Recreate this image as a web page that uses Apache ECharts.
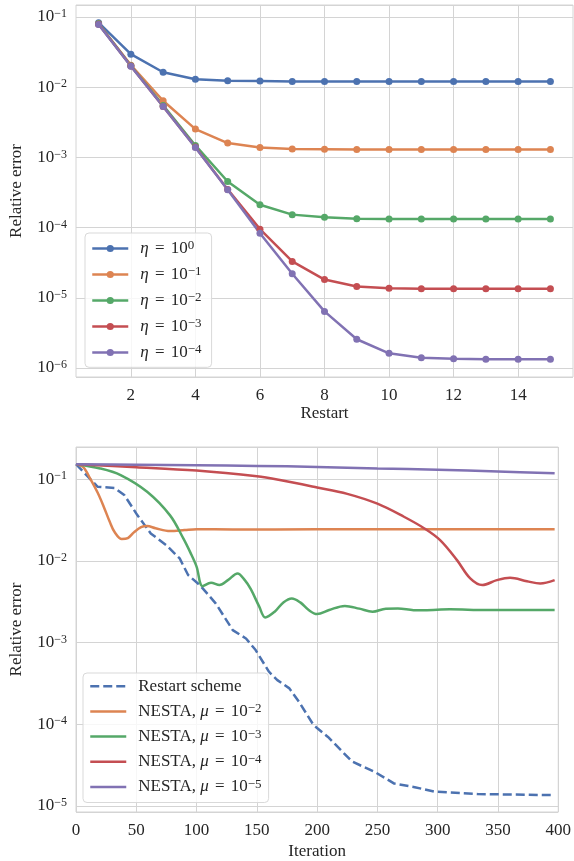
<!DOCTYPE html>
<html>
<head>
<meta charset="utf-8">
<script src="https://cdn.jsdelivr.net/npm/echarts@6/dist/echarts.min.js"></script>
<style>
html, body { margin: 0; padding: 0; background: #fff; }
#main { width: 574px; height: 861px; }
</style>
</head>
<body>
<div id="main"></div>
<script>
var chart = echarts.init(document.getElementById('main'));

// top panel: error after each restart
var restarts = [1, 2, 3, 4, 5, 6, 7, 8, 9, 10, 11, 12, 13, 14, 15];
var restartTicks = [2, 4, 6, 8, 10, 12, 14];
var eta0 = [0.083, 0.0295, 0.0163, 0.013, 0.0123, 0.0122, 0.012, 0.012, 0.012, 0.012, 0.012, 0.012, 0.012, 0.012, 0.012];
var eta1 = [0.080, 0.0206, 0.0064, 0.00253, 0.0016, 0.00138, 0.00132, 0.00131, 0.0013, 0.0013, 0.0013, 0.0013, 0.0013, 0.0013, 0.0013];
var eta2 = [0.080, 0.0202, 0.0055, 0.00148, 0.000454, 0.000212, 0.000153, 0.00014, 0.000134, 0.000133, 0.000133, 0.000133, 0.000133, 0.000133, 0.000133];
var eta3 = [0.079, 0.0200, 0.0053, 0.0014, 0.00035, 0.000095, 0.000033, 0.0000182, 0.0000145, 0.0000137, 0.0000135, 0.0000135, 0.0000135, 0.0000135, 0.0000135];
var eta4 = [0.078, 0.0198, 0.0053, 0.00138, 0.000346, 0.000083, 0.000022, 0.0000064, 0.00000257, 0.00000162, 0.0000014, 0.00000135, 0.00000133, 0.00000133, 0.00000133];
var etaExp = ['0', '−1', '−2', '−3', '−4'];

// bottom panel: error per iteration, [iteration, error]
var restartScheme = [[0, 0.152], [18, 0.0805], [32, 0.078], [40, 0.064], [51, 0.036], [62, 0.0216], [75, 0.0155], [86, 0.0107], [93, 0.0067], [103, 0.005], [116, 0.003], [130, 0.00142], [141, 0.00112], [149, 0.00081], [160, 0.00044], [167, 0.000347], [177, 0.000275], [185, 0.000188], [197, 0.000098], [209, 0.00007], [229, 0.000035], [248, 0.000026], [264, 0.0000188], [281, 0.000017], [297, 0.000015], [333, 0.000014], [396, 0.0000136]];
var nesta2 = [[0, 0.152], [6, 0.14], [12, 0.1], [18, 0.068], [23, 0.046], [28, 0.03], [32, 0.0225], [38, 0.0185], [43, 0.019], [48, 0.0223], [54, 0.0258], [59, 0.0266], [66, 0.025], [78, 0.0231], [90, 0.0238], [100, 0.0244], [130, 0.0242], [200, 0.0243], [300, 0.0243], [397, 0.0243]];
var nesta3 = [[0, 0.152], [20, 0.135], [37, 0.112], [59, 0.07], [78, 0.036], [89, 0.0188], [95, 0.0125], [100, 0.0085], [105, 0.0049], [112, 0.0054], [119, 0.00506], [126, 0.0058], [134, 0.007], [140, 0.0058], [145, 0.0045], [152, 0.00275], [157, 0.00203], [165, 0.0024], [172, 0.0031], [179, 0.00347], [186, 0.0031], [193, 0.0025], [200, 0.00223], [210, 0.0025], [223, 0.00281], [235, 0.0026], [246, 0.00238], [257, 0.0026], [267, 0.00261], [280, 0.00249], [289, 0.00248], [310, 0.00255], [340, 0.0025], [397, 0.0025]];
var nesta4 = [[0, 0.152], [50, 0.14], [100, 0.127], [150, 0.108], [168, 0.098], [200, 0.079], [225, 0.066], [250, 0.05], [272, 0.0346], [289, 0.0249], [302, 0.0179], [316, 0.0102], [327, 0.0061], [337, 0.00505], [349, 0.0058], [360, 0.0062], [374, 0.00564], [385, 0.00528], [397, 0.0058]];
var nesta5 = [[0, 0.152], [50, 0.15], [100, 0.148], [150, 0.145], [200, 0.141], [250, 0.135], [300, 0.13], [350, 0.124], [397, 0.118]];
var muExp = ['−2', '−3', '−4', '−5'];

var colors = ['#4C72B0', '#DD8452', '#55A868', '#C44E52', '#8172B3'];
var serif = 'Liberation Serif';
var ink = '#262626';
var gridColor = '#d4d4d4';

var rich = {
    p: { fontFamily: serif, fontSize: 17, color: ink, lineHeight: 18, padding: [0, 0, 0, 7] },
    i: { fontFamily: serif, fontSize: 17, fontStyle: 'italic', color: ink, lineHeight: 18, padding: [0, 0, 0, 7] },
    m: { fontFamily: serif, fontSize: 17, fontStyle: 'italic', color: ink, lineHeight: 18 },
    q: { fontFamily: serif, fontSize: 17, color: ink, lineHeight: 18, padding: [0, 2, 0, 2] },
    t: { fontFamily: serif, fontSize: 17, color: ink, lineHeight: 18 },
    s: { fontFamily: serif, fontSize: 13, color: ink, lineHeight: 6, verticalAlign: 'top' }
};

function powLabel(v) {
    var e = Math.round(Math.log10(v));
    return '{b|10}{e|' + (e < 0 ? '−' + (-e) : e) + '}';
}
var tickRich = {
    b: { fontFamily: serif, fontSize: 17, color: ink, lineHeight: 18 },
    e: { fontFamily: serif, fontSize: 12, color: ink, lineHeight: 6, verticalAlign: 'top' }
};

function xAxisBase() {
    return {
        type: 'value',
        nameLocation: 'middle',
        nameTextStyle: { fontFamily: serif, fontSize: 17, color: ink },
        axisLine: { show: false },
        axisTick: { show: false },
        axisLabel: { fontFamily: serif, fontSize: 17, color: ink, margin: 10 },
        splitLine: { show: true, lineStyle: { color: gridColor, width: 1 } }
    };
}
function yAxisBase() {
    return {
        type: 'log',
        logBase: 10,
        name: 'Relative error',
        nameLocation: 'middle',
        nameRotate: 90,
        nameGap: 51,
        nameTextStyle: { fontFamily: serif, fontSize: 17, color: ink },
        axisLine: { show: false },
        axisTick: { show: false },
        minorTick: { show: false },
        axisLabel: { formatter: powLabel, rich: tickRich, margin: 9, showMinLabel: false, showMaxLabel: false },
        splitLine: { show: true, lineStyle: { color: gridColor, width: 1 } }
    };
}

var xTop = xAxisBase();
xTop.gridIndex = 0;
xTop.min = 0.3;
xTop.max = 15.7;
xTop.name = 'Restart';
xTop.nameGap = 28;
xTop.axisLabel.customValues = restartTicks;
xTop.axisTick.customValues = restartTicks;

var xBot = xAxisBase();
xBot.gridIndex = 1;
xBot.min = 0;
xBot.max = 400;
xBot.interval = 50;
xBot.name = 'Iteration';
xBot.nameGap = 31;

var yTop = yAxisBase();
yTop.gridIndex = 0;
yTop.min = 7.45e-7;
yTop.max = 0.148;

var yBot = yAxisBase();
yBot.gridIndex = 1;
yBot.min = 8.45e-6;
yBot.max = 0.247;

var topSets = [eta0, eta1, eta2, eta3, eta4];
var botSets = [restartScheme, nesta2, nesta3, nesta4, nesta5];
var series = [];
var topNames = [], botNames = [];

topSets.forEach(function (vals, k) {
    var name = 'eta' + k;
    topNames.push(name);
    series.push({
        name: name,
        type: 'line',
        xAxisIndex: 0,
        yAxisIndex: 0,
        data: restarts.map(function (r, j) { return [r, vals[j]]; }),
        symbol: 'circle',
        symbolSize: 7,
        showSymbol: true,
        color: colors[k],
        lineStyle: { width: 2.5, color: colors[k] },
        itemStyle: { color: colors[k], borderWidth: 0 },
        emphasis: { disabled: true }
    });
});

botSets.forEach(function (pts, k) {
    var name = 'mu' + k;
    botNames.push(name);
    series.push({
        name: name,
        type: 'line',
        xAxisIndex: 1,
        yAxisIndex: 1,
        data: pts,
        smooth: k === 0 ? false : 0.35,
        symbol: 'none',
        color: colors[k],
        lineStyle: { width: 2.5, color: colors[k], type: k === 0 ? [9, 4] : 'solid' },
        emphasis: { disabled: true }
    });
});

function legendLabel(name) {
    var k = +name.slice(name.length - 1);
    if (name.indexOf('eta') === 0) {
        return '{i|η}{q| = }{t|10}{s|' + etaExp[k] + '}';
    }
    if (k === 0) return '{p|Restart scheme}';
    return '{p|NESTA, }{m|μ}{q| = }{t|10}{s|' + muExp[k - 1] + '}';
}
var legendCommon = {
    orient: 'vertical',
    itemWidth: 36,
    backgroundColor: 'rgba(255,255,255,0.8)',
    borderColor: '#d9d9d9',
    borderWidth: 1,
    borderRadius: 4,
    formatter: legendLabel,
    lineStyle: { width: 2.5 },
    textStyle: { rich: rich }
};

var option = {
    backgroundColor: '#fff',
    animation: false,
    grid: [
        { left: 76, top: 5, width: 497, height: 372, show: true, borderColor: gridColor, borderWidth: 1, backgroundColor: 'transparent' },
        { left: 75, top: 447, width: 487, height: 365, show: true, borderColor: gridColor, borderWidth: 1, backgroundColor: 'transparent' }
    ],
    legend: [
        Object.assign({}, legendCommon, {
            data: topNames, left: 85, top: 233, itemHeight: 9, itemGap: 8.5,
            padding: [6.5, 10, 6.3, 6]
        }),
        Object.assign({}, legendCommon, {
            data: botNames, left: 83, top: 673, itemHeight: 9, itemGap: 7.7,
            itemStyle: { opacity: 0 },
            padding: [4.7, 7, 7, 6]
        })
    ],
    xAxis: [xTop, xBot],
    yAxis: [yTop, yBot],
    series: series
};

chart.setOption(option);
window.addEventListener('resize', function () {
    chart.resize();
});
</script>
</body>
</html>
